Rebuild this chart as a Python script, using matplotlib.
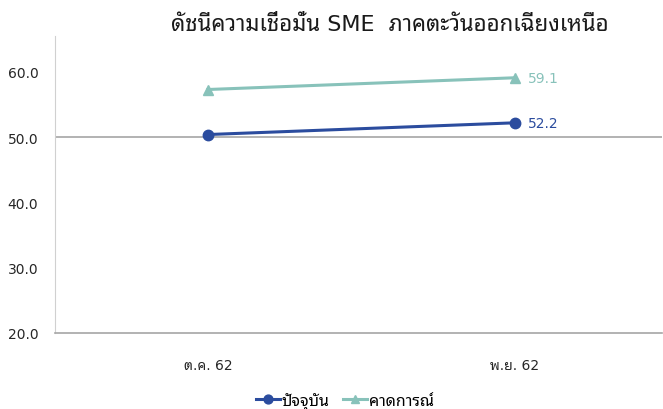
import matplotlib
matplotlib.use("Agg")
import matplotlib.pyplot as plt

# chart data
months = ["ต.ค. 62", "พ.ย. 62"]
current = [50.4, 52.2]
expected = [57.3, 59.1]
series_names = ["ปัจจุบัน", "คาดการณ์"]
yticks = [20, 30, 40, 50, 60]
title = "ดัชนีความเชื่อมั่น SME  ภาคตะวันออกเฉียงเหนือ"

# DejaVu for latin/digits (close to Tahoma), Noto Thai Looped for thai glyphs
plt.rcParams["font.family"] = ["DejaVu Sans", "Noto Sans Thai Looped"]

blue = "#2B4C9E"
teal = "#88C2BA"
grey = "#A6A6A6"

fig = plt.figure(figsize=(6.63, 4.10), dpi=100)
ax = fig.add_axes([0.083, 0.1854, 0.9155, 0.7244])

x = list(range(len(months)))
ax.plot(x, current, color=blue, lw=2.2, marker="o", ms=7.5, label=series_names[0])
ax.plot(x, expected, color=teal, lw=2.2, marker="^", ms=7.5, label=series_names[1])

ax.annotate(f"{current[-1]:.1f}", (x[-1], current[-1]), xytext=(9, 0),
            textcoords="offset points", va="center", color=blue, fontsize=10)
ax.annotate(f"{expected[-1]:.1f}", (x[-1], expected[-1]), xytext=(9, 0),
            textcoords="offset points", va="center", color=teal, fontsize=10)

ax.set_xlim(-0.498, 1.479)
ax.set_ylim(20, 65.5)
ax.set_yticks(yticks)
ax.set_yticklabels([f"{v:.1f}" for v in yticks])
ax.set_xticks(x)
ax.set_xticklabels(months)
ax.axhline(50, color=grey, lw=1.2, zorder=0)

for s in ["top", "right"]:
    ax.spines[s].set_visible(False)
ax.spines["left"].set_color("#D0D0D0")
ax.spines["bottom"].set_color(grey)
ax.spines["bottom"].set_linewidth(1.2)
ax.tick_params(length=0, labelsize=10, colors="#262626")
ax.tick_params(axis="x", pad=18)
ax.tick_params(axis="y", pad=12)

fig.text(0.588, 0.939, title, ha="center", va="center", fontsize=16, color="#1a1a1a")
fig.legend(loc="center", bbox_to_anchor=(0.52, 0.02), ncol=2, frameon=False,
           fontsize=11.5, handlelength=1.5, handletextpad=0.1, columnspacing=0.9,
           markerscale=0.85)

fig.savefig("out.png", dpi=100)
